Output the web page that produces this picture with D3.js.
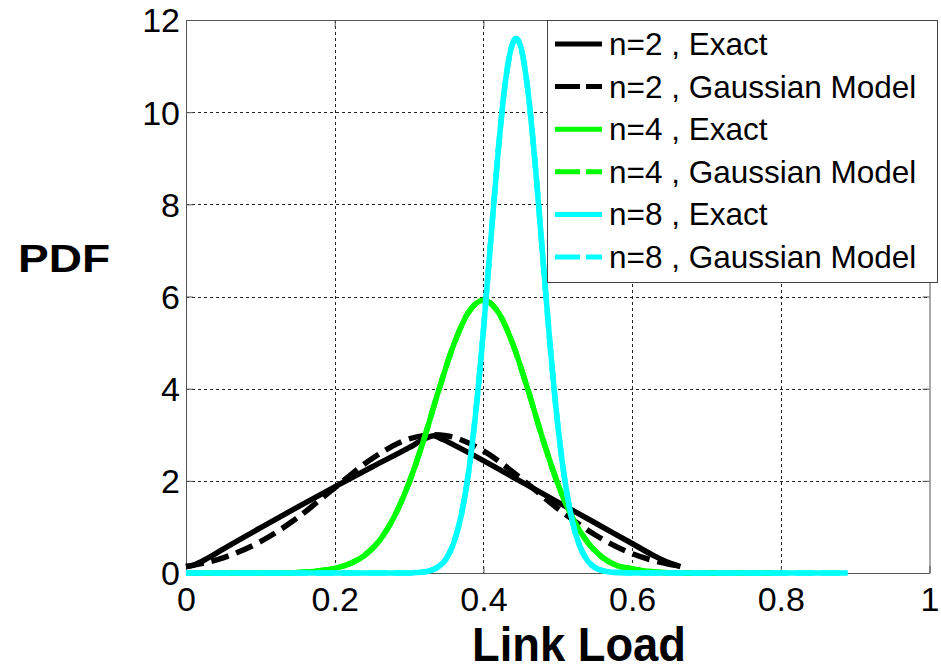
<!DOCTYPE html>
<html>
<head>
<meta charset="utf-8">
<script src="https://cdn.jsdelivr.net/npm/d3@7"></script>
<style>
  body { margin: 0; background: #fff; }
  svg { display: block; font-family: "Liberation Sans", Arial, Helvetica, sans-serif; }
</style>
</head>
<body>
<svg id="chart" width="941" height="671"></svg>
<script>
// values
var xTicks = [0, 0.2, 0.4, 0.6, 0.8, 1];
var yTicks = [0, 2, 4, 6, 8, 10, 12];

var n2X      = [0, 0.01, 0.03, 0.05, 0.1, 0.15, 0.2, 0.25, 0.3, 0.32, 0.333, 0.345, 0.36, 0.4, 0.45, 0.5, 0.55, 0.6, 0.63, 0.65, 0.665];
var n2Exact  = [0.14, 0.17, 0.33, 0.52, 0.98, 1.43, 1.87, 2.3, 2.72, 2.9, 2.98, 2.9, 2.78, 2.44, 1.99, 1.54, 1.09, 0.64, 0.37, 0.22, 0.14];
var n2GX     = [0, 0.05, 0.1, 0.15, 0.2, 0.25, 0.3, 0.333, 0.35, 0.4, 0.45, 0.5, 0.55, 0.6, 0.65, 0.667];
var n2Gauss  = [0.14, 0.33, 0.68, 1.2, 1.85, 2.48, 2.91, 3.0, 2.98, 2.65, 2.06, 1.4, 0.83, 0.42, 0.19, 0.14];

var n4X      = [0, 0.14, 0.16, 0.18, 0.2, 0.22, 0.24, 0.26, 0.28, 0.3, 0.32, 0.34, 0.36, 0.38, 0.4, 0.42, 0.44, 0.46, 0.48, 0.5, 0.52, 0.54, 0.56, 0.58, 0.6, 0.62, 0.64, 0.66, 0.79];
var n4Exact  = [0, 0, 0.02, 0.05, 0.1, 0.2, 0.38, 0.7, 1.22, 1.96, 2.9, 3.97, 4.95, 5.66, 5.92, 5.66, 4.95, 3.97, 2.9, 1.94, 1.19, 0.67, 0.34, 0.16, 0.09, 0.04, 0.01, 0, 0];
var n4Gauss  = [0, 0, 0.02, 0.05, 0.1, 0.2, 0.38, 0.7, 1.22, 1.96, 2.9, 3.97, 4.95, 5.66, 5.92, 5.66, 4.95, 3.97, 2.9, 1.94, 1.19, 0.67, 0.34, 0.16, 0.09, 0.04, 0.01, 0, 0];

var n8X      = [0, 0.3, 0.31, 0.32, 0.33, 0.34, 0.35, 0.36, 0.37, 0.38, 0.39, 0.4, 0.41, 0.42, 0.43, 0.44, 0.444, 0.45, 0.46, 0.47, 0.48, 0.49, 0.5, 0.51, 0.52, 0.53, 0.54, 0.55, 0.56, 0.57, 0.58, 0.6, 0.89];
var n8Exact  = [0, 0, 0.01, 0.02, 0.06, 0.14, 0.31, 0.65, 1.24, 2.18, 3.53, 5.26, 7.24, 9.17, 10.71, 11.52, 11.6, 11.43, 10.45, 8.8, 6.84, 4.89, 3.22, 1.96, 1.1, 0.57, 0.27, 0.12, 0.05, 0.02, 0.01, 0, 0];
var n8Gauss  = [0, 0, 0.01, 0.02, 0.06, 0.14, 0.31, 0.65, 1.24, 2.18, 3.53, 5.26, 7.24, 9.17, 10.71, 11.52, 11.6, 11.43, 10.45, 8.8, 6.84, 4.89, 3.22, 1.96, 1.1, 0.57, 0.27, 0.12, 0.05, 0.02, 0.01, 0, 0];

var legendLabels = ["n=2 , Exact", "n=2 , Gaussian Model", "n=4 , Exact", "n=4 , Gaussian Model", "n=8 , Exact", "n=8 , Gaussian Model"];

var series = [
  { xs: n2X,  ys: n2Exact, color: "#000000", dashed: false },
  { xs: n2GX, ys: n2Gauss, color: "#000000", dashed: true },
  { xs: n4X,  ys: n4Exact, color: "#00ff00", dashed: false },
  { xs: n4X,  ys: n4Gauss, color: "#00ff00", dashed: true },
  { xs: n8X,  ys: n8Exact, color: "#00ffff", dashed: false },
  { xs: n8X,  ys: n8Gauss, color: "#00ffff", dashed: true }
];

var svg = d3.select("#chart");
// note: "top" is taken by window.top, so use plot* names
var plotLeft = 186, plotRight = 929.5, plotTop = 20, plotBottom = 573;

var x = d3.scaleLinear().domain([0, 1]).range([plotLeft, plotRight]);
var y = d3.scaleLinear().domain([0, 12]).range([plotBottom, plotTop]);

// grid
var grid = svg.append("g").attr("class", "grid")
  .attr("stroke", "#222").attr("stroke-width", 1).attr("stroke-dasharray", "3,3");
grid.selectAll(".gx").data(xTicks.slice(1, -1)).enter().append("line")
  .attr("x1", function(d) { return Math.round(x(d)) + 0.5; })
  .attr("x2", function(d) { return Math.round(x(d)) + 0.5; })
  .attr("y1", plotTop).attr("y2", plotBottom);
grid.selectAll(".gy").data(yTicks.slice(1, -1)).enter().append("line")
  .attr("y1", function(d) { return Math.round(y(d)) + 0.5; })
  .attr("y2", function(d) { return Math.round(y(d)) + 0.5; })
  .attr("x1", plotLeft).attr("x2", plotRight);

// axes box with inward ticks
var xAxis = d3.axisBottom(x).tickValues(xTicks).tickSizeInner(-7).tickSizeOuter(0).tickFormat(d3.format("~g"));
var yAxis = d3.axisLeft(y).tickValues(yTicks).tickSizeInner(-7).tickSizeOuter(0).tickFormat(d3.format("d"));

var gx = svg.append("g").attr("transform", "translate(0," + plotBottom + ")").call(xAxis);
var gy = svg.append("g").attr("transform", "translate(" + plotLeft + ",0)").call(yAxis);
svg.append("g").attr("transform", "translate(0," + plotTop + ")")
  .call(d3.axisTop(x).tickValues(xTicks).tickSizeInner(-7).tickSizeOuter(0).tickFormat(""));
svg.append("g").attr("transform", "translate(" + plotRight + ",0)")
  .call(d3.axisRight(y).tickValues(yTicks).tickSizeInner(-7).tickSizeOuter(0).tickFormat(""));

svg.selectAll(".domain, .tick line").attr("stroke", "#555").attr("stroke-width", 1);

gx.selectAll("text").attr("font-size", 34).attr("fill", "#000")
  .attr("font-family", "Liberation Sans, Arial, sans-serif")
  .attr("dy", null).attr("y", 38);
gy.selectAll("text").attr("font-size", 34).attr("fill", "#000")
  .attr("font-family", "Liberation Sans, Arial, sans-serif")
  .attr("x", -6).attr("dy", "0.35em");

// curves
var line = d3.line()
  .x(function(d) { return x(d[0]); })
  .y(function(d) { return y(d[1]); })
  .curve(d3.curveMonotoneX);

series.forEach(function(s) {
  var pts = s.xs.map(function(v, i) { return [v, s.ys[i]]; });
  svg.append("path")
    .datum(pts)
    .attr("d", line)
    .attr("fill", "none")
    .attr("stroke", s.color)
    .attr("stroke-width", 5.5)
    .attr("stroke-linejoin", "round")
    .attr("stroke-dasharray", s.dashed ? "18,8" : null);
});

// legend
var lg = svg.append("g");
lg.append("rect").attr("x", 547.5).attr("y", 20.5).attr("width", 390).attr("height", 262)
  .attr("fill", "#fff").attr("stroke", "#444").attr("stroke-width", 1);
var rowY = d3.scaleLinear().domain([0, 5]).range([44, 257]);
series.forEach(function(s, i) {
  lg.append("line")
    .attr("x1", 555).attr("x2", 602)
    .attr("y1", rowY(i)).attr("y2", rowY(i))
    .attr("stroke", s.color).attr("stroke-width", 5)
    .attr("stroke-dasharray", s.dashed ? "25,6" : null);
  lg.append("text")
    .attr("x", 609).attr("y", rowY(i) + 11)
    .attr("font-size", 31.5)
    .attr("fill", "#000")
    .text(legendLabels[i]);
});

// axis labels
svg.append("text")
  .attr("x", 18).attr("y", 272)
  .attr("font-size", 38).attr("font-weight", "bold")
  .attr("textLength", 92).attr("lengthAdjust", "spacingAndGlyphs")
  .text("PDF");
svg.append("text")
  .attr("x", 472).attr("y", 661)
  .attr("font-size", 48).attr("font-weight", "bold")
  .attr("textLength", 214).attr("lengthAdjust", "spacingAndGlyphs")
  .text("Link Load");
</script>
</body>
</html>
